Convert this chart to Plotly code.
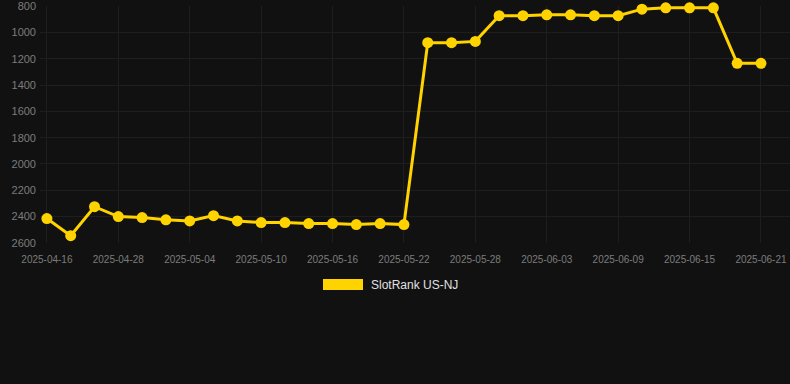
import plotly.graph_objects as go

dates = ["2025-04-16", "2025-04-20", "2025-04-24", "2025-04-28", "2025-04-30", "2025-05-02",
         "2025-05-04", "2025-05-06", "2025-05-08", "2025-05-10", "2025-05-12", "2025-05-14",
         "2025-05-16", "2025-05-18", "2025-05-20", "2025-05-22", "2025-05-24", "2025-05-26",
         "2025-05-28", "2025-05-30", "2025-06-01", "2025-06-03", "2025-06-05", "2025-06-07",
         "2025-06-09", "2025-06-11", "2025-06-13", "2025-06-15", "2025-06-17", "2025-06-19",
         "2025-06-21"]
rank = [2415, 2545, 2325, 2400, 2408, 2425, 2433, 2393, 2433, 2446, 2446, 2453, 2453, 2461,
        2453, 2461, 1078, 1078, 1068, 873, 873, 866, 866, 873, 873, 823, 813, 813, 813, 1235, 1235]
tick_labels = dates[::3]
y_ticks = [800, 1000, 1200, 1400, 1600, 1800, 2000, 2200, 2400, 2600]
series_name = "SlotRank US-NJ"

gold = "#FFD300"
bg = "#111111"
grid = "#1e1e1e"
tickcol = "#7c7c7c"

fig = go.Figure()
fig.add_trace(go.Scatter(
    x=list(range(len(dates))), y=rank, mode="lines+markers", name=series_name,
    line=dict(color=gold, width=3), marker=dict(color=gold, size=11),
    cliponaxis=False, showlegend=False,
    customdata=dates, hovertemplate="%{customdata}: %{y}<extra></extra>",
))

fig.update_layout(
    width=790, height=384, paper_bgcolor=bg, plot_bgcolor=bg,
    margin=dict(l=40, r=0, t=6, b=141),
    font=dict(family="Arial, Liberation Sans, sans-serif", color=tickcol),
    showlegend=False,
    xaxis=dict(
        range=[-0.29, 31.22], tickmode="array",
        tickvals=list(range(0, len(dates), 3)), ticktext=tick_labels,
        showgrid=True, gridcolor=grid, gridwidth=1, zeroline=False,
        showline=False, ticks="", tickfont=dict(size=10, color=tickcol),
        ticklabelstandoff=9, ticklabeloverflow="allow",
    ),
    yaxis=dict(
        range=[2601, 799], tickmode="array", tickvals=y_ticks,
        showgrid=True, gridcolor=grid, gridwidth=1, zeroline=False,
        showline=False, ticks="", tickfont=dict(size=11, color=tickcol),
        ticklabelstandoff=3, ticklabeloverflow="allow",
    ),
)

# legend drawn manually (rectangle swatch + label)
fig.add_shape(type="rect", xref="paper", yref="paper",
              x0=(323 - 40) / 750, x1=(363 - 40) / 750,
              y0=(243 - 290) / 237, y1=(243 - 279) / 237,
              fillcolor=gold, line=dict(width=0))
fig.add_annotation(text=series_name, xref="paper", yref="paper",
                   x=(369 - 40) / 750, y=(243 - 285) / 237,
                   xanchor="left", yanchor="middle", showarrow=False,
                   font=dict(size=12, color="#e0e0e0"))

fig.write_html("out.html")
